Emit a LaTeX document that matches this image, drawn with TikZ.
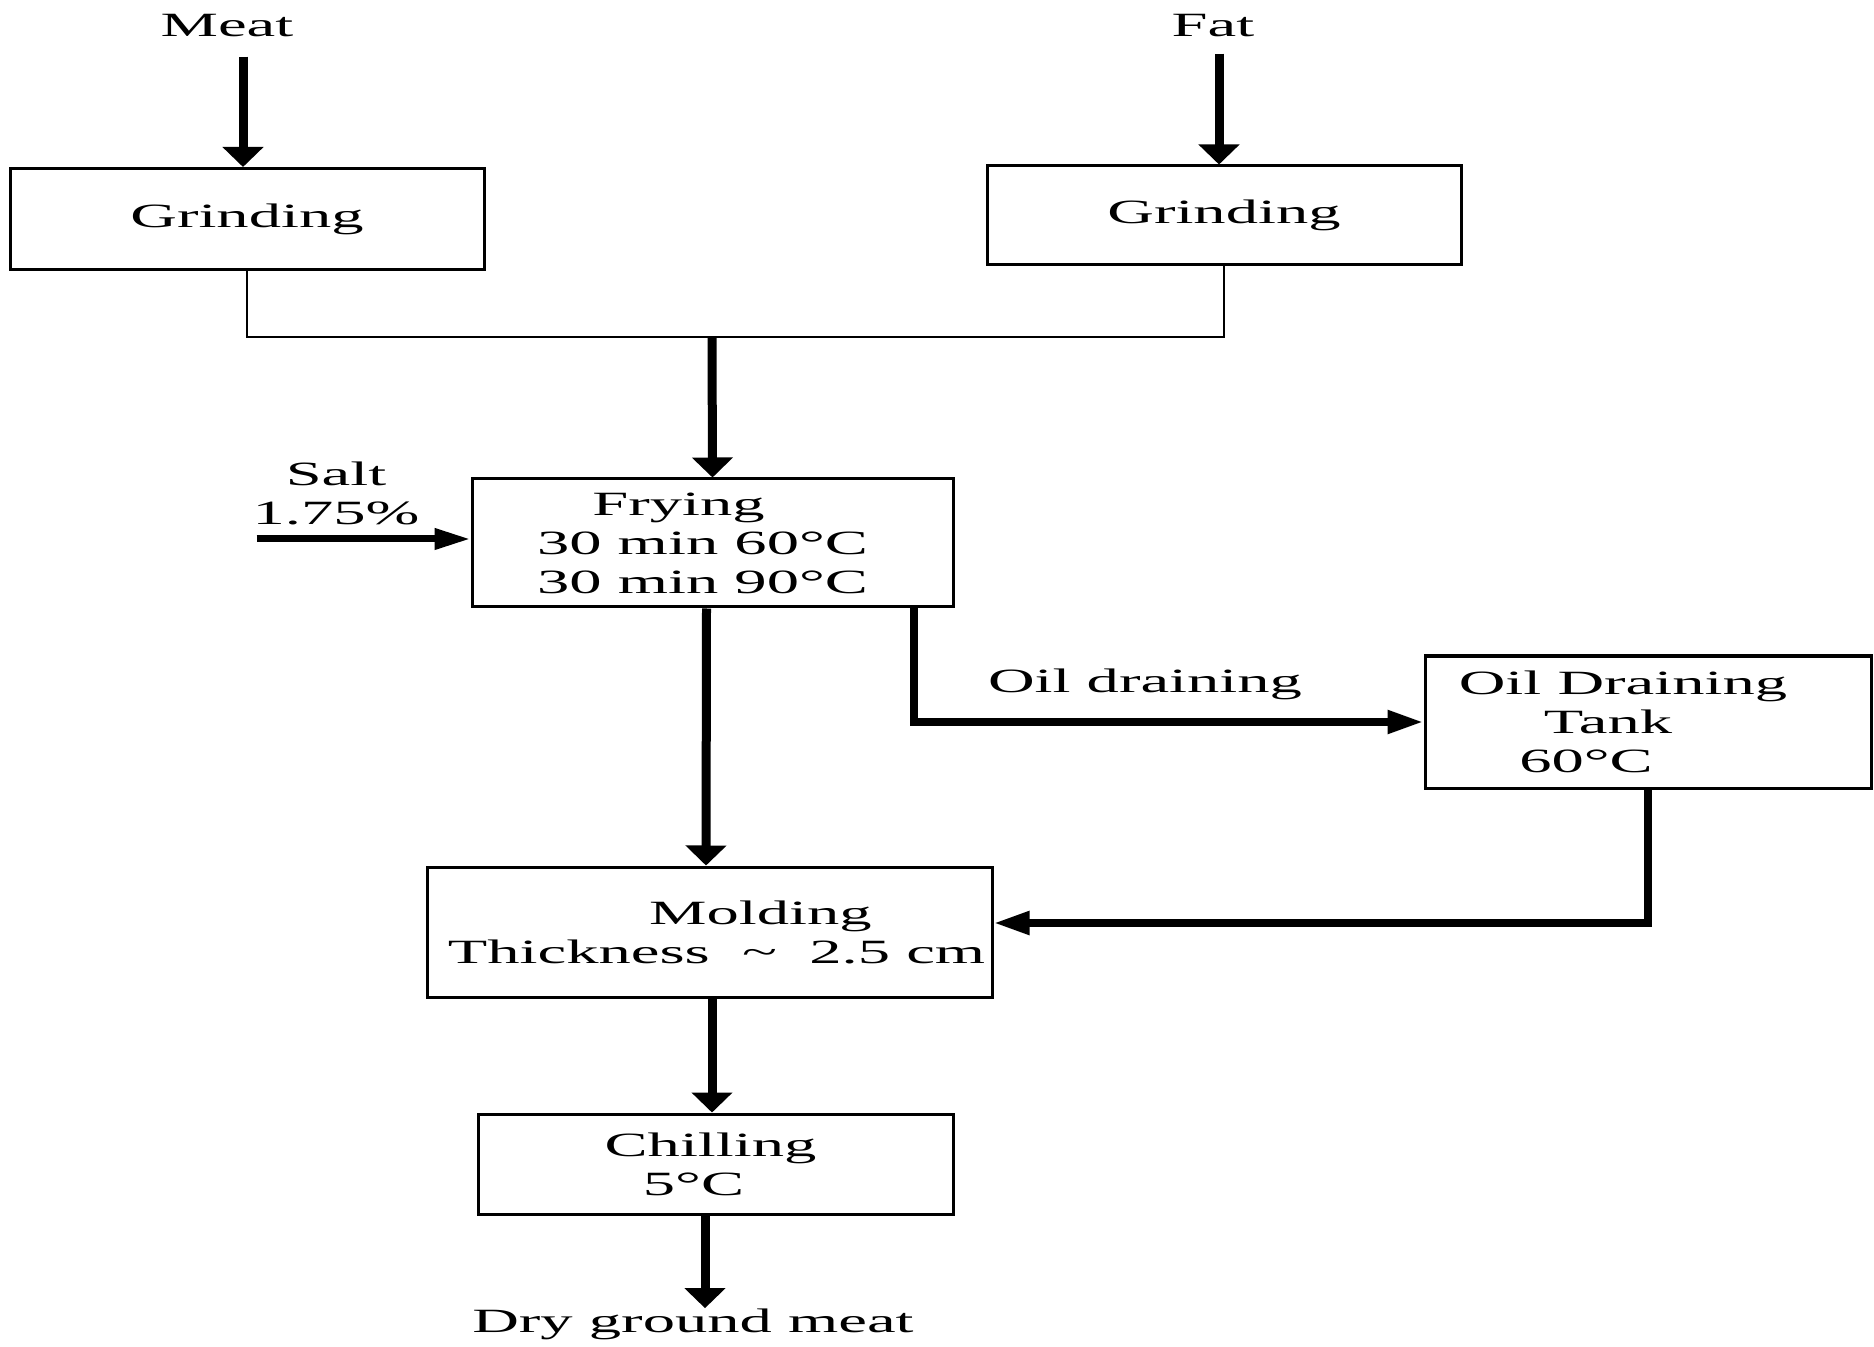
\documentclass[tikz,border=0pt]{standalone}
\usepackage{fontspec}
\setmainfont{Liberation Serif}[FakeStretch=1.9]
\usetikzlibrary{arrows.meta,calc}
\newcommand\fs{\fontsize{17pt}{19.5pt}\selectfont}
\begin{document}
\begin{tikzpicture}[x=0.5pt,y=-0.5pt,
  box/.style={draw, line width=1.5pt, inner sep=0pt, align=center, font=\fs},
  txt/.style={inner sep=0pt, align=center, font=\fs},
  thinline/.style={line width=1.3pt},
  varr/.style={line width=4.5pt, -{Triangle[length=10pt,width=20pt]}},
  harr/.style={line width=4pt, -{Triangle[length=18pt,width=11pt]}},
  sarr/.style={line width=3.5pt, -{Triangle[length=18pt,width=10pt]}},
]
\fill[white] (0,0) rectangle (1874,1347);
\useasboundingbox (0,0) rectangle (1874,1347);

% texts
\node[txt] (meat) at (227,26) {Meat};
\node[txt] (fat) at (1213,26) {Fat};
\node[txt] (salt) at (336,493) {Salt\\1.75\%};
\node[txt] (oil) at (1145,684) {Oil draining};
\node[txt] (dry) at (693,1324) {Dry ground meat};

% boxes
\node[box, minimum width=237pt, minimum height=50.5pt] (g1) at (247,219) {Grinding};
\node[box, minimum width=237pt, minimum height=49.5pt] (g2) at (1224,215.5) {Grinding};
\node[box, minimum width=240.5pt, minimum height=64pt] (fry) at (712.5,543)
  {Frying\hspace*{34pt}\null\\30 min 60°C\hspace*{10pt}\null\\30 min 90°C\hspace*{10pt}\null};
\node[box, minimum width=223pt, minimum height=66pt] (tank) at (1648,722)
  {Oil Draining\hspace*{25pt}\null\\Tank\hspace*{40pt}\null\\60°C\hspace*{62pt}\null};
\node[box, minimum width=282.5pt, minimum height=65pt] (mold) at (709.5,932)
  {\hspace*{51pt}Molding\\\hspace*{7pt}Thickness\ \ \textasciitilde\ \ 2.5 cm};
\node[box, minimum width=237.5pt, minimum height=50pt] (chill) at (715.5,1164)
  {Chilling\hspace*{5pt}\null\\5°C\hspace*{22pt}\null};

% connectors
\coordinate (j) at (712,337);
\draw[varr] ($(meat.south)+(16,19)$) -- ($(g1.north)+(-4,0)$);
\draw[varr] ($(fat.south)+(6,16)$) -- ($(g2.north)+(-5,0)$);
\draw[thinline] (g1.south) |- (j) -| (g2.south);
\draw[varr] (j) -- (fry.north);
\draw[sarr] ($(fry.west)+(-214,-4)$) -- ($(fry.west)+(0,-4)$);
\draw[varr] ($(fry.south)+(-6,0)$) -- ($(mold.north)+(-3.5,0)$);
\draw[harr] ($(fry.south east)+(-41,0)$) |- (tank.west);
\draw[harr] (tank.south) |- ($(mold.east)+(0,-9)$);
\draw[varr] ($(mold.south)+(2.5,0)$) -- ($(chill.north)+(-3.5,0)$);
\draw[varr] ($(chill.south)+(-10.5,0)$) -- ($(dry.north)+(12,0)$);
\end{tikzpicture}
\end{document}
